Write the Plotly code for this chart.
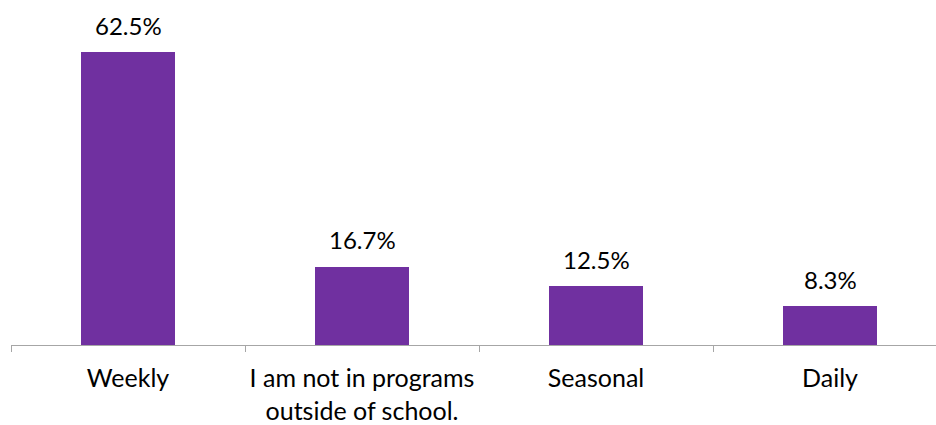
import plotly.graph_objects as go

categories = ["Weekly", "I am not in programs<br>outside of school.", "Seasonal", "Daily"]
values = [62.5, 16.7, 12.5, 8.3]
labels = ["62.5%", "16.7%", "12.5%", "8.3%"]

FONT = "Lato"
fig = go.Figure()
fig.add_trace(go.Bar(x=categories, y=values, marker_color="#7030A0", width=0.4,
                     marker_line_width=0))
for c, v, t in zip(categories, values, labels):
    fig.add_annotation(x=c, y=v, text=t, showarrow=False, yanchor="middle", yshift=27,
                       font=dict(family=FONT, size=24, color="#000000"))

fig.update_layout(
    width=936, height=425,
    margin=dict(l=11, r=0, t=0, b=80, autoexpand=False),
    plot_bgcolor="white", paper_bgcolor="white",
    showlegend=False,
    font=dict(family=FONT, size=24, color="#000000"),
    xaxis=dict(type="category", range=[-0.5, 3.453], tickson="boundaries",
               ticks="outside", ticklen=6, tickcolor="#A6A6A6", tickwidth=1,
               showline=True, linecolor="#A6A6A6", linewidth=1, showgrid=False,
               automargin=False, ticklabelstandoff=11,
               tickfont=dict(family=FONT, size=25, color="#000000")),
    yaxis=dict(range=[0, 73.6], visible=False, showgrid=False, zeroline=False),
    bargap=0,
)
fig.write_html("out.html", config={"displayModeBar": False},
               post_script="document.body.style.margin='0';document.body.style.overflow='hidden';")
